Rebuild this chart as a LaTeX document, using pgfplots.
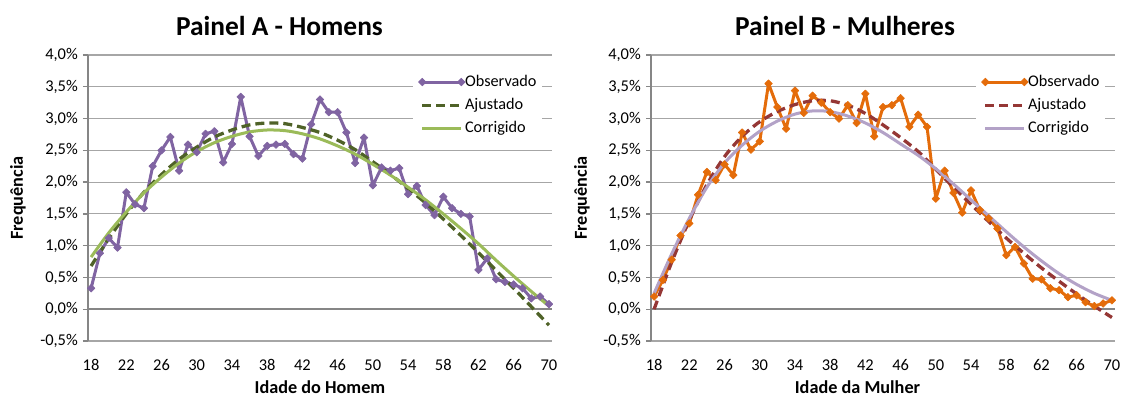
\documentclass[border=0pt]{standalone}
\usepackage{fontspec}
\setmainfont{Carlito}
\usepackage{pgfplots}
\usepackage{pgfplotstable}
\pgfplotsset{compat=1.18}

\definecolor{obsA}{HTML}{8064A2}
\definecolor{ajuA}{HTML}{4F6228}
\definecolor{corA}{HTML}{9BBB59}
\definecolor{obsB}{HTML}{E46C0A}
\definecolor{ajuB}{HTML}{953735}
\definecolor{corB}{HTML}{B3A2C7}
\definecolor{gridgray}{HTML}{A6A6A6}
\definecolor{axisgray}{HTML}{868686}

% Frequencia observada por idade (%)
\pgfplotstableread{
idade freq
18 0.33
19 0.88
20 1.12
21 0.97
22 1.84
23 1.65
24 1.59
25 2.25
26 2.50
27 2.71
28 2.18
29 2.59
30 2.47
31 2.76
32 2.80
33 2.31
34 2.60
35 3.34
36 2.72
37 2.41
38 2.57
39 2.59
40 2.60
41 2.44
42 2.37
43 2.91
44 3.30
45 3.10
46 3.10
47 2.78
48 2.30
49 2.70
50 1.95
51 2.23
52 2.18
53 2.22
54 1.81
55 1.94
56 1.64
57 1.48
58 1.77
59 1.59
60 1.50
61 1.46
62 0.62
63 0.80
64 0.47
65 0.43
66 0.39
67 0.33
68 0.17
69 0.20
70 0.08
}\obsHomens

\pgfplotstableread{
idade freq
18 0.68
20 1.11
22 1.50
24 1.84
26 2.12
28 2.36
30 2.55
32 2.71
34 2.82
36 2.90
38 2.93
40 2.92
42 2.86
44 2.78
46 2.66
48 2.51
50 2.32
52 2.12
54 1.90
56 1.67
58 1.42
60 1.16
62 0.89
64 0.61
66 0.33
68 0.04
70 -0.25
}\ajuHomens

\pgfplotstableread{
idade freq
18 0.82
20 1.20
22 1.53
24 1.83
26 2.08
28 2.30
30 2.48
32 2.62
34 2.72
36 2.79
38 2.82
40 2.81
42 2.76
44 2.68
46 2.57
48 2.44
50 2.28
52 2.11
54 1.92
56 1.72
58 1.50
60 1.27
62 1.03
64 0.77
66 0.52
68 0.28
70 0.05
}\corHomens

\pgfplotstableread{
idade freq
18 0.20
19 0.46
20 0.78
21 1.16
22 1.35
23 1.80
24 2.16
25 2.03
26 2.28
27 2.11
28 2.78
29 2.51
30 2.64
31 3.55
32 3.18
33 2.84
34 3.44
35 3.09
36 3.36
37 3.25
38 3.10
39 3.00
40 3.21
41 2.93
42 3.39
43 2.72
44 3.18
45 3.21
46 3.32
47 2.87
48 3.06
49 2.87
50 1.74
51 2.18
52 1.83
53 1.52
54 1.87
55 1.56
56 1.43
57 1.27
58 0.85
59 0.98
60 0.72
61 0.48
62 0.47
63 0.33
64 0.30
65 0.19
66 0.22
67 0.11
68 0.05
69 0.09
70 0.14
}\obsMulheres

\pgfplotstableread{
idade freq
18 0.00
20 0.74
22 1.40
24 1.96
26 2.40
28 2.72
30 2.95
32 3.11
34 3.22
36 3.28
38 3.28
40 3.21
42 3.08
44 2.90
46 2.70
48 2.48
50 2.20
52 1.92
54 1.65
56 1.38
58 1.12
60 0.88
62 0.65
64 0.44
66 0.24
68 0.05
70 -0.13
}\ajuMulheres

\pgfplotstableread{
idade freq
18 0.25
20 0.87
22 1.43
24 1.92
26 2.30
28 2.58
30 2.80
32 2.96
34 3.07
36 3.12
38 3.11
40 3.04
42 2.93
44 2.78
46 2.60
48 2.42
50 2.21
52 1.97
54 1.72
56 1.47
58 1.22
60 0.98
62 0.76
64 0.56
66 0.39
68 0.25
70 0.14
}\corMulheres

\pgfplotsset{
  painel/.style={
    scale only axis, width=464bp, height=286bp,
    xmin=17.65, xmax=70.35, ymin=-0.5, ymax=4,
    clip=false,
    axis x line*=bottom, axis y line*=left,
    separate axis lines,
    x axis line style={draw=gridgray, line width=1.2bp},
    y axis line style={draw=axisgray, line width=1.3bp},
    xtick={18,22,...,70},
    ytick={-0.5,0,0.5,1,1.5,2,2.5,3,3.5,4},
    xtick style={draw=none},
    ytick style={draw=axisgray, line width=1.3bp},
    tick align=outside, major tick length=5bp,
    ymajorgrids, major grid style={draw=gridgray, line width=1.2bp},
    tick label style={font=\fontsize{16.5}{19}\selectfont, text=black},
    xticklabel={\pgfmathprintnumber[assume math mode=true]{\tick}},
    yticklabel={\pgfmathprintnumber[fixed, fixed zerofill, precision=1, use comma, assume math mode=true]{\tick}\%},
    xticklabel style={anchor=center, inner sep=0pt, yshift=-19bp},
    yticklabel style={anchor=east, inner sep=0pt, xshift=-5bp},
    label style={font=\bfseries\fontsize{18.3}{21}\selectfont},
    title style={font=\bfseries\fontsize{27.5}{30}\selectfont, anchor=base, yshift=14bp},
    legend cell align=left,
    legend style={draw=none, fill=white, anchor=north west,
      at={(axis description cs:0.7004,0.972)},
      inner xsep=5.3bp, inner ysep=11bp, row sep=7.6bp,
      font=\fontsize{16.3}{19}\selectfont,
      nodes={inner sep=0pt, text height=11.8bp, text depth=3.8bp},
      /tikz/every even column/.append style={column sep=3bp}},
    legend image code/.code={\draw[##1] plot coordinates {(0bp,0bp) (39bp,0bp)};},
  },
  observado/.style={line width=3bp, line join=round, mark=diamond*,
    mark size=3.8bp, mark options={solid, xscale=1.333, line width=0.6bp}},
  ajustado/.style={line width=3.3bp, dash pattern=on 9bp off 5bp, smooth, no markers},
  corrigido/.style={line width=3bp, smooth, no markers},
}

\begin{document}
\begin{tikzpicture}
\useasboundingbox (-88bp,-57bp) rectangle (1033bp,341bp);

% Painel A
\begin{axis}[painel, at={(0,0)}, anchor=south west,
  title={Painel A - Homens},
  title style={at={(axis description cs:0.4127,1)}},
  xlabel={Idade do Homem}, ylabel={Frequência},
  xlabel style={at={(axis description cs:0.5,-0.160)}, anchor=center},
  ylabel style={at={(axis description cs:-0.1509,0.5)}, anchor=center},
]
\draw[axisgray, line width=1.7bp] ({rel axis cs:0,0}|-{axis cs:18,0}) -- ({rel axis cs:1,0}|-{axis cs:18,0});
\addplot[observado, color=obsA] table[x=idade, y=freq] {\obsHomens};
\addlegendentry{Observado}
\addplot[ajustado, color=ajuA] table[x=idade, y=freq] {\ajuHomens};
\addlegendentry{Ajustado}
\addplot[corrigido, color=corA] table[x=idade, y=freq] {\corHomens};
\addlegendentry{Corrigido}
\end{axis}

% Painel B
\begin{axis}[painel, at={(563bp,0)}, anchor=south west,
  title={Painel B - Mulheres},
  title style={at={(axis description cs:0.418,1)}},
  xlabel={Idade da Mulher}, ylabel={Frequência},
  xlabel style={at={(axis description cs:0.445,-0.160)}, anchor=center},
  ylabel style={at={(axis description cs:-0.1487,0.5)}, anchor=center},
]
\draw[axisgray, line width=1.7bp] ({rel axis cs:0,0}|-{axis cs:18,0}) -- ({rel axis cs:1,0}|-{axis cs:18,0});
\addplot[observado, color=obsB] table[x=idade, y=freq] {\obsMulheres};
\addlegendentry{Observado}
\addplot[ajustado, color=ajuB] table[x=idade, y=freq] {\ajuMulheres};
\addlegendentry{Ajustado}
\addplot[corrigido, color=corB] table[x=idade, y=freq] {\corMulheres};
\addlegendentry{Corrigido}
\end{axis}
\end{tikzpicture}
\end{document}
